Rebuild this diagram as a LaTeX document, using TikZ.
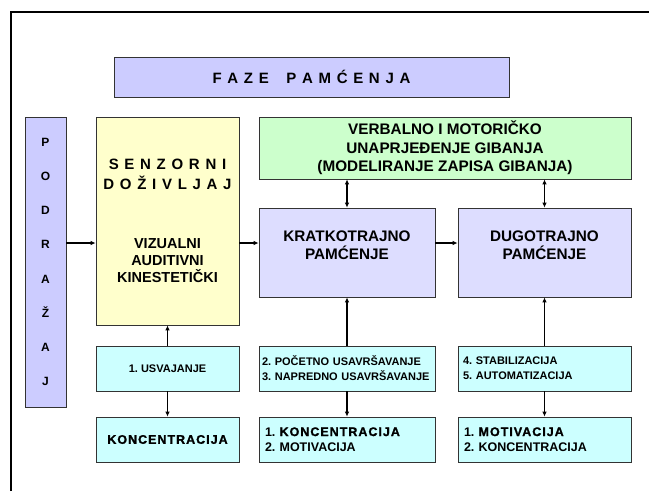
\documentclass[tikz,border=0pt]{standalone}
\usepackage{fontspec}
\setmainfont{Liberation Sans}
\newfontfamily\heavyfont[FakeBold=1.3,LetterSpace=8]{Liberation Sans}
\usetikzlibrary{arrows.meta,shadows}

\definecolor{lavender}{HTML}{CCCCFF}
\definecolor{palelav}{HTML}{DDDDFF}
\definecolor{paleyel}{HTML}{FFFFCC}
\definecolor{palegrn}{HTML}{CCFFCC}
\definecolor{palecyan}{HTML}{CCFFFF}

\newcommand{\spacedfont}{\fontsize{15}{20}\selectfont\spaceskip=.38em\relax}
\newcommand{\mainfont}{\fontsize{15.3}{18.5}\selectfont}
\newcommand{\smallfont}{\fontsize{11}{15}\selectfont}

\begin{document}
\frenchspacing
\begin{tikzpicture}[x=1pt,y=-1pt,>={Latex[length=5pt,width=4.5pt]},
      box/.style={draw=black!80,line width=0.7pt,inner sep=0pt,font=\bfseries,
        drop shadow={shadow xshift=0.8pt,shadow yshift=-0.8pt,fill=black!45,opacity=1}},
      title/.style={box,fill=lavender,font=\bfseries\spacedfont},
      memory/.style={box,fill=palelav,align=center,font=\bfseries\mainfont},
      phase/.style={box,fill=palecyan,align=left,inner xsep=5pt,font=\bfseries\smallfont},
      factor/.style={box,fill=palecyan,align=left,inner xsep=6pt,font=\bfseries\fontsize{12.5}{15.5}\selectfont},
      link/.style={line width=1.3pt}]
      \useasboundingbox (0,0) rectangle (649,491);
      % frame
      \draw[line width=2pt] (11,491) -- (11,12) -- (649,12);

      \node[title,minimum width=395pt,minimum height=40pt] (faze) at (311.5,77)
        {F A Z E\hspace{17.5pt}P A M Ć E N J A};

      \node[box,fill=lavender,minimum width=41pt,minimum height=290pt,align=center,
        font=\bfseries\fontsize{12}{34.2}\selectfont] (podrazaj) at (45.5,262)
        {P\\O\\D\\R\\A\\Ž\\A\\J};

      \node[box,fill=paleyel,minimum width=143pt,minimum height=208pt,align=center,
        font=\bfseries\fontsize{14.5}{17}\selectfont] (senz) at (167.5,221)
        {{\spacedfont S E N Z O R N I}\\[3pt]{\spacedfont D O Ž I V L J A J}\\[42pt]VIZUALNI\\AUDITIVNI\\KINESTETIČKI};

      \node[box,fill=palegrn,minimum width=372pt,minimum height=62pt,align=center,
        font=\bfseries\mainfont] (green) at (445,148)
        {VERBALNO I MOTORIČKO\\UNAPRJEĐENJE GIBANJA\\(MODELIRANJE ZAPISA GIBANJA)};

      \node[memory,minimum width=176pt,minimum height=89pt] (kratko) at (347,252.5)
        {KRATKOTRAJNO\\PAMĆENJE\\[-4pt]{}};
      \node[memory,minimum width=173pt,minimum height=89pt] (dugo) at (544.5,252.5)
        {DUGOTRAJNO\\PAMĆENJE\\[-4pt]{}};

      \node[phase,minimum width=143pt,minimum height=45pt,align=center] (usv) at (167.5,368.5)
        {1. USVAJANJE};
      \node[phase,text width=170pt,inner xsep=3pt,minimum height=45pt] (pocetno) at (347,368.5)
        {2. POČETNO USAVRŠAVANJE\\3. NAPREDNO USAVRŠAVANJE};
      \node[phase,text width=163pt,minimum height=45pt] (stab) at (544.5,368.5)
        {4. STABILIZACIJA\\5. AUTOMATIZACIJA};

      \node[factor,minimum width=143pt,minimum height=45pt,align=center] (konc) at (167.5,439.5)
        {\heavyfont KONCENTRACIJA};
      \node[factor,text width=164pt,minimum height=45pt] (kratkofak) at (347,439.5)
        {1. {\heavyfont KONCENTRACIJA}\\2. MOTIVACIJA};
      \node[factor,text width=161pt,minimum height=45pt] (dugofak) at (544.5,439.5)
        {1. {\heavyfont MOTIVACIJA}\\2. KONCENTRACIJA};

      \coordinate (midline) at (0,243);
      \draw[link,->] (podrazaj.east |- midline) -- (senz.west |- midline);
      \draw[link,->] (senz.east |- midline) -- (kratko.west |- midline);
      \draw[link,->] (kratko.east |- midline) -- (dugo.west |- midline);
      \draw[link,<->] (green.south -| kratko.north) -- (kratko.north);
      \draw[link,<->] (green.south -| dugo.north) -- (dugo.north);
      \draw[link,->] (usv.north) -- (senz.south);
      \draw[link,->] (usv.south) -- (konc.north);
      \draw[link,->] (pocetno.north) -- (kratko.south);
      \draw[link,->] (pocetno.south) -- (kratkofak.north);
      \draw[link,->] (stab.north) -- (dugo.south);
      \draw[link,->] (stab.south) -- (dugofak.north);
    \end{tikzpicture}
\end{document}
